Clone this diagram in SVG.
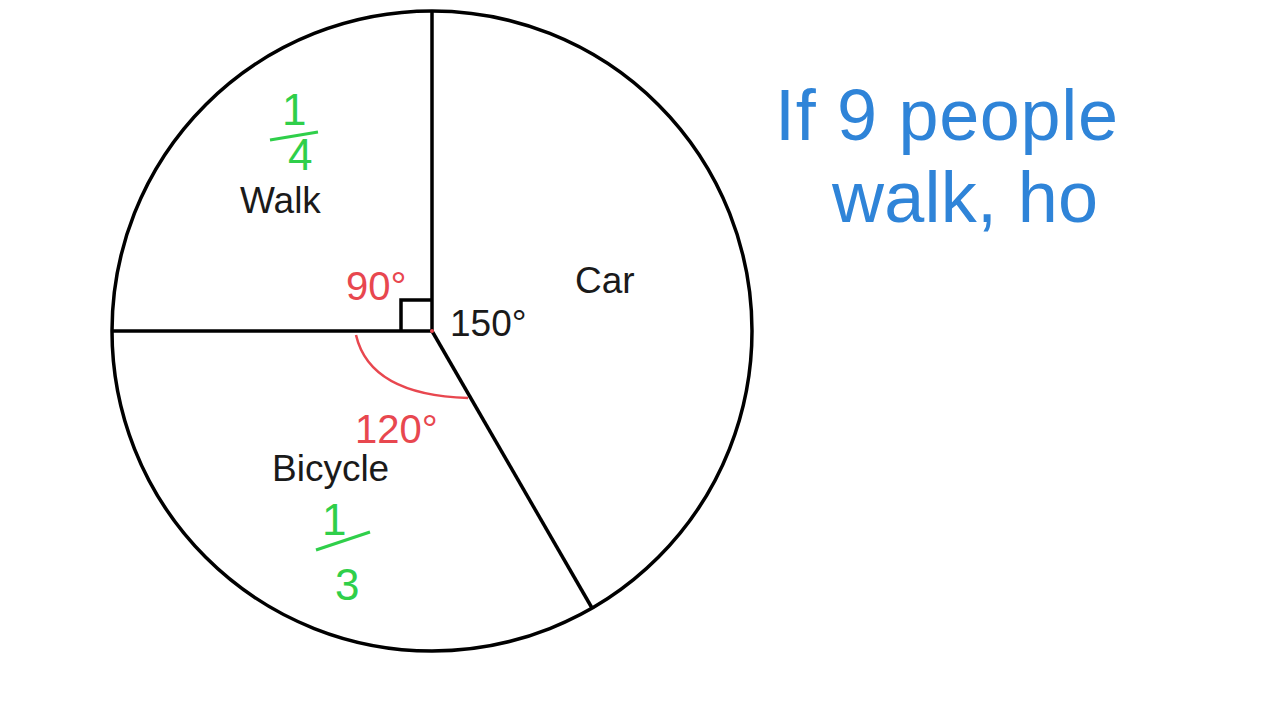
<svg xmlns="http://www.w3.org/2000/svg" width="1280" height="720" viewBox="0 0 1280 720">
<style>
.k{fill:none;stroke:#000;stroke-width:3.5}
.lbl{font-family:"Liberation Sans",Arial,sans-serif;font-size:37px;fill:#1a1a1a}
.red{font-family:"Liberation Sans",Arial,sans-serif;font-size:40px;fill:#e8474f;font-weight:300}
.grn{font-family:"Liberation Sans",Arial,sans-serif;font-size:44px;fill:#2fcf4a}
.blu{font-family:"Liberation Sans",Arial,sans-serif;font-size:72px;fill:#2f84d8;font-weight:300}
</style>
<rect width="1280" height="720" fill="#fff"/>
<g id="pie">
<circle class="k" cx="432" cy="331" r="320"/>
<line class="k" x1="432" y1="331" x2="432" y2="11"/>
<line class="k" x1="432" y1="331" x2="112" y2="331"/>
<line class="k" x1="432" y1="331" x2="592" y2="608"/>
<polyline class="k" points="401,331 401,300 432,300"/>
<circle cx="432" cy="331" r="2" fill="#e8474f"/>
</g>
<g id="labels">
<text class="lbl" x="240" y="213">Walk</text>
<text class="lbl" x="575" y="293">Car</text>
<text class="lbl" x="272" y="481">Bicycle</text>
<text class="lbl" x="450" y="336">150°</text>
</g>
<g id="annotations">
<path d="M356 335 Q370 395 468 398" fill="none" stroke="#e8474f" stroke-width="2.5"/>
<text class="red" x="346" y="300">90°</text>
<text class="red" x="355" y="443">120°</text>
<text class="grn" x="282" y="125">1</text>
<line x1="270" y1="140" x2="318" y2="132" stroke="#2fcf4a" stroke-width="3"/>
<text class="grn" x="288" y="170">4</text>
<text class="grn" x="322" y="535">1</text>
<line x1="316" y1="550" x2="370" y2="532" stroke="#2fcf4a" stroke-width="3"/>
<text class="grn" x="335" y="600">3</text>
<text class="blu" x="775" y="140" textLength="343">If  9  people</text>
<text class="blu" x="832" y="222" textLength="266">walk, ho</text>
</g>
</svg>
